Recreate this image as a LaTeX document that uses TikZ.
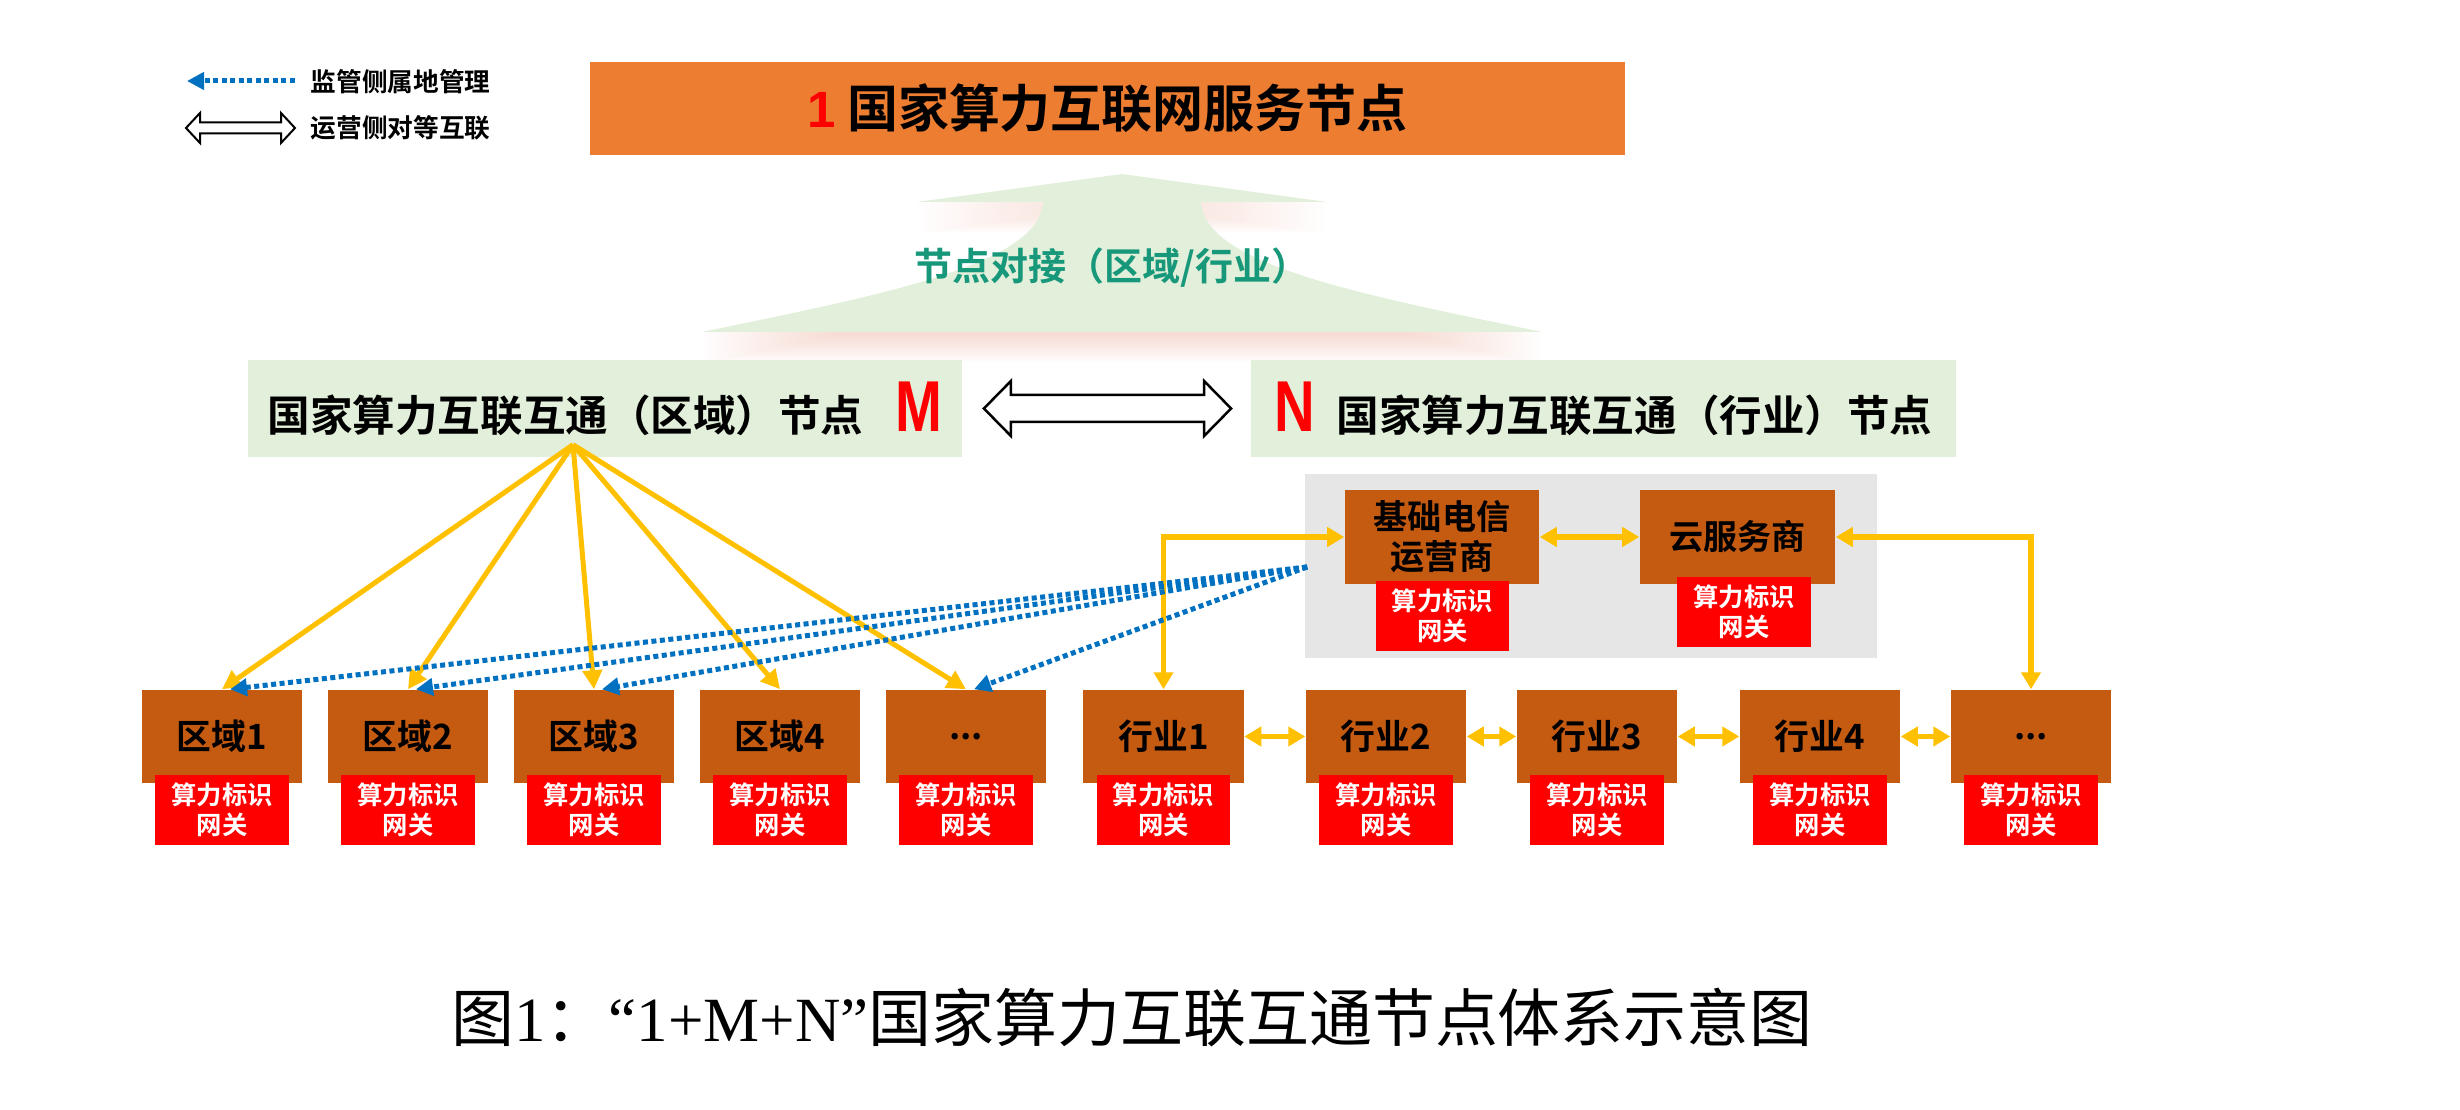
\documentclass[tikz,border=0pt]{standalone}
\usepackage{fontspec}
\usepackage{graphicx}
\setmainfont{Liberation Sans}
\newfontfamily\cjkb{Noto Sans CJK SC Bold}
\newfontfamily\cjkr{Noto Sans CJK SC}
\newfontfamily\serifl{Liberation Serif}
\newfontfamily\sansb{Liberation Sans Bold}
\usetikzlibrary{arrows.meta,calc}
\newcommand\mydots{...}
\definecolor{orng}{RGB}{237,125,49}
\definecolor{lgreen}{RGB}{226,239,218}
\definecolor{brn}{RGB}{197,90,17}
\definecolor{yel}{RGB}{255,192,0}
\definecolor{blu}{RGB}{0,112,192}
\definecolor{gry}{RGB}{231,230,230}
\definecolor{tealg}{RGB}{24,152,122}
\definecolor{redd}{RGB}{255,0,0}
\definecolor{pinkish}{RGB}{236,170,150}
\tikzset{
  brownbox/.style={fill=brn, minimum width=1.6cm, minimum height=0.93cm, inner sep=0pt,
    font=\cjkb\fontsize{9.9}{11.5}\selectfont, text=black},
  gatebox/.style={fill=redd, minimum width=1.33cm, minimum height=0.69cm, inner sep=0pt,
    align=center, font=\cjkb\fontsize{7.2}{8.6}\selectfont, text=white},
  greenbox/.style={fill=lgreen, minimum width=7.1cm, minimum height=0.97cm, inner sep=0pt,
    font=\cjkb\fontsize{12.1}{14}\selectfont},
  yarrow/.style={draw=yel, line width=0.05cm, -{Triangle[length=0.19cm,width=0.19cm]}},
  ydarrow/.style={draw=yel, line width=0.055cm,
    {Triangle[length=0.17cm,width=0.19cm]}-{Triangle[length=0.17cm,width=0.19cm]}},
  barrow/.style={draw=blu, line width=0.05cm, dash pattern=on 0.05cm off 0.035cm,
    -{Triangle[length=0.17cm,width=0.17cm]}},
  hollowarrow/.style={draw=black, fill=white, line join=miter},
  legendtext/.style={anchor=west, inner sep=0pt, font=\cjkb\fontsize{7.3}{9}\selectfont},
}
\begin{document}
\begin{tikzpicture}[x=0.01cm,y=-0.01cm]
\useasboundingbox (0,0) rectangle (2460,1110);

% legend
\node[legendtext] (lg1) at (310,82) {监管侧属地管理};
\node[legendtext] (lg2) at (310,128) {运营侧对等互联};
\coordinate (lb1) at ($(lg1.west)+(-15,-1)$);
\coordinate (lb2) at ($(lg1.west)+(-123,-1)$);
\draw[barrow] (lb1) -- (lb2);
\coordinate (ld1) at ($(lg2.west)+(-124,0)$);
\coordinate (ld2) at ($(lg2.west)+(-15,0)$);
\draw[hollowarrow, line width=0.02cm] (ld1) -- ++(14,-15) -- ++(0,9.5) -- ($(ld2)+(-14,-5.5)$)
  -- ++(0,-9.5) -- (ld2) -- ++(-14,15) -- ++(0,-9.5) -- ($(ld1)+(14,5.5)$) -- ++(0,9.5) -- cycle;

% green up arrow with soft shadow
\foreach \d in {2,4,...,30}{
  \begin{scope}[shift={(0,\d)}]
  \fill[pinkish, opacity=0.035] (1122,174) -- (1327,202) -- (1201,202)
    .. controls (1204,265) and (1364,295) .. (1542,332) -- (702,332)
    .. controls (880,295) and (1040,265) .. (1043,202) -- (917,202) -- cycle;
  \end{scope}
}
\fill[lgreen] (1122,174) -- (1327,202) -- (1201,202)
    .. controls (1204,265) and (1364,295) .. (1542,332) -- (702,332)
    .. controls (880,295) and (1040,265) .. (1043,202) -- (917,202) -- cycle;
\node[text=tealg, font=\cjkb\fontsize{10.8}{13}\selectfont, inner sep=0pt] (gtext) at (1112,268) {节点对接（区域/行业）};

% top box
\node[fill=orng, minimum width=10.35cm, minimum height=0.93cm, inner sep=0pt,
  font=\cjkb\fontsize{14.5}{17}\selectfont] (top) at (1107.5,108.5)
  {{\sansb\color{redd}1} 国家算力互联网服务节点};

% M and N boxes
\node[greenbox, minimum width=7.14cm] (M) at (605,408.5)
  {国家算力互联互通（区域）节点\hspace{0.75em}{\sansb\fontsize{20.5}{20}\selectfont\color{redd}\scalebox{0.78}[1]{M}}};
\node[greenbox, minimum width=7.05cm] (N) at (1603.5,408.5)
  {{\sansb\fontsize{20.5}{20}\selectfont\color{redd}\scalebox{0.78}[1]{N}}\hspace{0.5em}国家算力互联互通（行业）节点};
\coordinate (mnL) at ($(M.east)+(21,0)$);
\coordinate (mnR) at ($(N.west)+(-19,0)$);
\draw[hollowarrow, line width=0.025cm] (mnL) -- ++(27,-27.5) -- ++(0,14) -- ($(mnR)+(-27,-13.5)$)
  -- ++(0,-14) -- (mnR) -- ++(-27,27.5) -- ++(0,-14) -- ($(mnL)+(27,13.5)$) -- ++(0,14) -- cycle;

% gray provider box
\node[fill=gry, minimum width=5.72cm, minimum height=1.84cm, inner sep=0pt] (gray) at (1591,566) {};
\node[brownbox, minimum width=1.94cm, minimum height=0.94cm, align=center,
  font=\cjkb\fontsize{9.7}{11.4}\selectfont] (jc) at (1442,537) {基础电信\\运营商};
\node[gatebox] (jc-g) at (1442.5,616) {算力标识\\网关};
\node[brownbox, minimum width=1.95cm, minimum height=0.94cm,
  font=\cjkb\fontsize{9.7}{11.4}\selectfont] (cloud) at (1737.5,537) {云服务商};
\node[gatebox] (cloud-g) at (1744,612) {算力标识\\网关};

% bottom row
\foreach \n/\x/\t in {r1/222/区域1, r2/408/区域2, r3/594/区域3, r4/780/区域4, rd/966/\mydots, h1/1163.5/行业1, h2/1386/行业2, h3/1597/行业3, h4/1820/行业4, hd/2031/\mydots}{
  \node[brownbox] (\n) at (\x,736.5) {\t};
  \node[gatebox] (\n-g) at (\x,810) {算力标识\\网关};
}

% yellow connectors
\coordinate (src) at ($(M.south)+(-32,-13)$);
\foreach \n in {r1,r2,r3,r4,rd}{\draw[yarrow] (src) -- (\n.north);}
\draw[ydarrow] (jc.west) -| (h1.north);
\draw[ydarrow] (cloud.east) -| (hd.north);
\draw[ydarrow] (jc.east) -- (cloud.west);
\draw[ydarrow] (h1.east) -- (h2.west);
\draw[ydarrow] (h2.east) -- (h3.west);
\draw[ydarrow] (h3.east) -- (h4.west);
\draw[ydarrow] (h4.east) -- (hd.west);

% blue dotted supervision lines
\coordinate (bsrc) at ($(gray.west)+(3,1)$);
\foreach \n in {r1,r2,r3,rd}{\draw[barrow] (bsrc) -- ($(\n.north)+(8,0)$);}

% caption
\node[inner sep=0pt, font=\fontsize{17.9}{20}\selectfont] (cap) at (1132,1018)
  {{\cjkr 图}{\serifl 1}{\cjkr ：}{\serifl “1+M+N”}{\cjkr 国家算力互联互通节点体系示意图}};
\end{tikzpicture}
\end{document}
